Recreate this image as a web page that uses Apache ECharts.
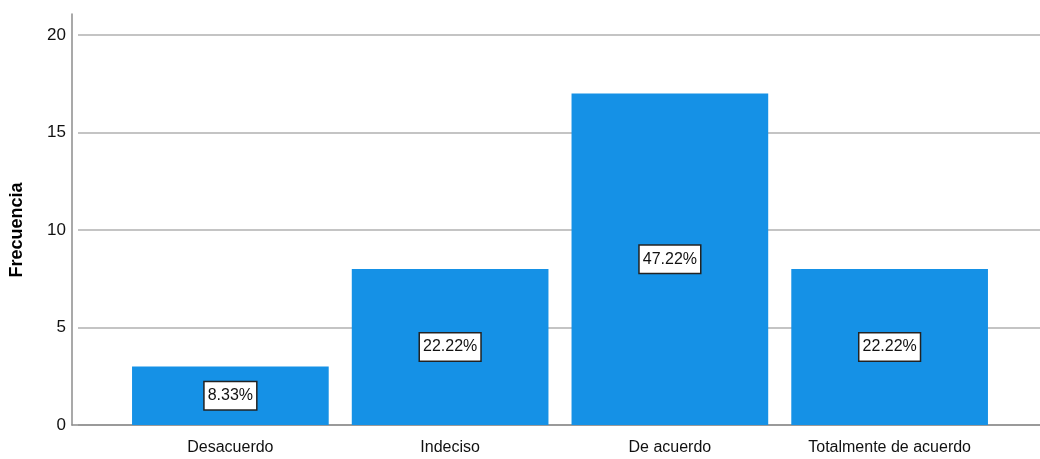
<!DOCTYPE html>
<html><head><meta charset="utf-8">
<script src="https://cdn.jsdelivr.net/npm/echarts@6/dist/echarts.min.js"></script>
<style>html,body{margin:0;padding:0;background:#fff}#c{width:1040px;height:459px}</style>
</head><body><div id="c"></div>
<script>
const categories = ['Desacuerdo', 'Indeciso', 'De acuerdo', 'Totalmente de acuerdo'];
const counts = [3, 8, 17, 8];
const yTicks = {min: 0, max: 20, interval: 5};
const yAxisName = 'Frecuencia';

const total = counts.reduce((a, b) => a + b, 0);
const FONT = '"Liberation Sans Narrow", "Arial Narrow", "Liberation Sans", Arial, sans-serif';
const chart = echarts.init(document.getElementById('c'));
chart.setOption({
  animation: false,
  backgroundColor: '#fff',
  grid: [
    {left: 72, right: 0, top: 35, bottom: 34},      // gridlines + tick labels
    {left: 72, right: 0, top: 14, bottom: 34},      // axis lines
    {left: 120.5, right: 40.5, top: 35, bottom: 34} // bars
  ],
  xAxis: [
    {gridIndex: 0, type: 'value', show: false, min: 0, max: 1},
    {gridIndex: 1, type: 'value', min: 0, max: 1, axisLine: {show: true, lineStyle: {color: '#8c8c8c', width: 1.5}},
      axisTick: {show: false}, axisLabel: {show: false}, splitLine: {show: false}},
    {gridIndex: 2, type: 'category', data: categories,
      axisLine: {show: false}, axisTick: {show: false},
      axisLabel: {interval: 0, color: '#111', fontFamily: FONT, fontSize: 16, margin: 15}}
  ],
  yAxis: [
    {gridIndex: 0, type: 'value', min: yTicks.min, max: yTicks.max, interval: yTicks.interval,
      axisLine: {show: false}, axisTick: {show: false},
      axisLabel: {color: '#111', fontFamily: FONT, fontSize: 17, margin: 12},
      splitLine: {show: true, lineStyle: {color: '#c4c4c4', width: 2}},
      name: yAxisName, nameLocation: 'middle', nameGap: 52, nameRotate: 90,
      nameTextStyle: {color: '#000', fontFamily: '"Liberation Sans", Arial, sans-serif', fontWeight: 'bold', fontSize: 18}},
    {gridIndex: 1, type: 'value', min: 0, max: 1,
      axisLine: {show: true, lineStyle: {color: '#8c8c8c', width: 1.5}},
      axisTick: {show: false}, axisLabel: {show: false}, splitLine: {show: false}},
    {gridIndex: 2, type: 'value', min: yTicks.min, max: yTicks.max, show: false}
  ],
  series: [{
    type: 'bar', xAxisIndex: 2, yAxisIndex: 2, data: counts,
    barCategoryGap: '10.5%',
    itemStyle: {color: '#1591e6'},
    z: 5,
    label: {
      show: true, position: 'inside',
      formatter: p => (p.value / total * 100).toFixed(2) + '%',
      color: '#111', fontFamily: FONT, fontSize: 16,
      backgroundColor: '#fff', borderColor: '#222', borderWidth: 1.5,
      padding: [6, 3, 5, 3]
    }
  }]
});
</script></body></html>
